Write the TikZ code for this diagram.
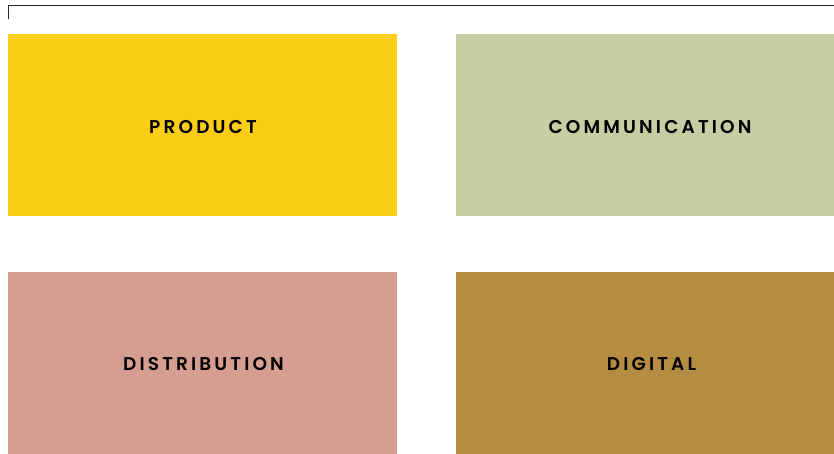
\documentclass[tikz,border=0pt]{standalone}
\usepackage{fontspec}
\newfontfamily\lblfont[LetterSpace=17, UprightFont={* SemiBold}]{Poppins}
\definecolor{cyellow}{RGB}{252,205,22}
\definecolor{cgreen}{RGB}{200,205,163}
\definecolor{cpink}{RGB}{214,157,145}
\definecolor{cbrown}{RGB}{181,140,66}
\definecolor{cline}{RGB}{40,40,40}
\tikzset{
  tile/.style={draw=none, inner sep=0pt, minimum width=389pt, minimum height=182pt},
  tilewide/.style={tile, minimum width=378pt},
  lbl/.style={font=\lblfont\fontsize{18.5}{22}\selectfont, text=black}
}
\begin{document}
\begin{tikzpicture}[x=1pt,y=-1pt]
\useasboundingbox (0,0) rectangle (834,453);
\coordinate (tick) at (8,19);
\coordinate (corner) at (8,5.5);
\coordinate (lineend) at (834,5.5);
\draw[cline, line width=1pt] (tick) -- (corner) -- (lineend);
\node[tile, fill=cyellow] (product) at (202.5,125) {};
\node[tilewide, fill=cgreen] (communication) at (645,125) {};
\node[tile, fill=cpink] (distribution) at (202.5,362.5) {};
\node[tilewide, fill=cbrown] (digital) at (645,362.5) {};
\node[lbl] (tproduct) at (203,127) {PRODUCT};
\node[lbl] (tcommunication) at (650,127) {COMMUNICATION};
\node[lbl] (tdistribution) at (203.5,364) {DISTRIBUTION};
\node[lbl] (tdigital) at (651.5,364) {DIGITAL};
\end{tikzpicture}
\end{document}
